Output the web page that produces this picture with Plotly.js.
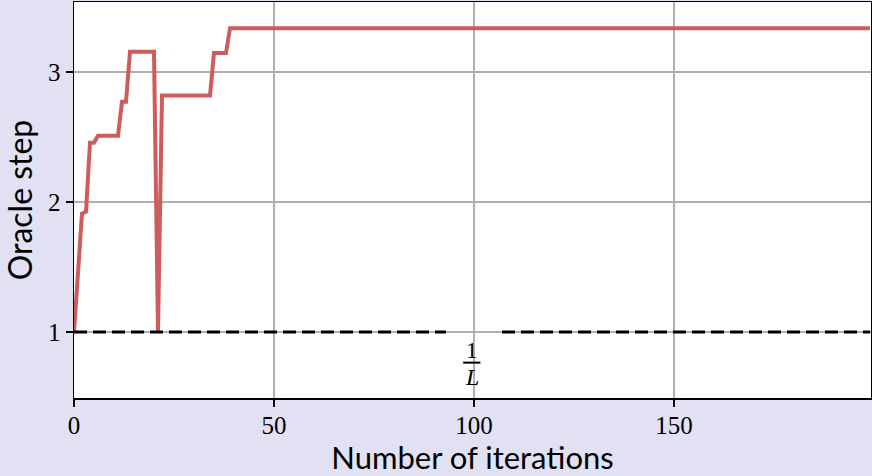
<!DOCTYPE html>
<html>
<head>
<meta charset="utf-8">
<script src="https://cdn.plot.ly/plotly-3.0.1.min.js"></script>
<style>html,body{margin:0;padding:0;background:#e1e1f3;}</style>
</head>
<body>
<div id="chart" style="width:872px;height:476px;"></div>
<script>
// Oracle step per iteration (breakpoints of the curve)
const iterations = [0, 2, 3, 4, 5, 6, 11, 12, 13, 14, 20, 21, 22, 34, 35, 38, 39, 199];
const oracleStep = [1.0, 1.91, 1.925, 2.456, 2.456, 2.51, 2.51, 2.77, 2.77, 3.155, 3.155, 1.0, 2.818, 2.818, 3.145, 3.145, 3.336, 3.336];
// reference 1/L line (drawn in two pieces around its label)
const refLeftX = [0, 93];
const refRightX = [107, 199];
const refY = 1.0;
const xTicks = [0, 50, 100, 150];
const yTicks = [1, 2, 3];

const traces = [
  {x: iterations, y: oracleStep, type: 'scatter', mode: 'lines',
   line: {color: '#cd5c5c', width: 4}, showlegend: false, hoverinfo: 'skip'},
  {x: refLeftX, y: refLeftX.map(() => refY), type: 'scatter', mode: 'lines',
   line: {color: '#000000', width: 3, dash: '13px,6px'}, showlegend: false, hoverinfo: 'skip'},
  {x: refRightX, y: refRightX.map(() => refY), type: 'scatter', mode: 'lines',
   line: {color: '#000000', width: 3, dash: '13px,6px'}, showlegend: false, hoverinfo: 'skip'}
];

const serif = 'Liberation Serif, Times New Roman, serif';
const sans = 'Lato, DejaVu Sans, sans-serif';

const layout = {
  width: 872, height: 476,
  margin: {l: 74, r: 1, t: 2, b: 78},
  paper_bgcolor: '#e1e1f3',
  plot_bgcolor: '#ffffff',
  xaxis: {
    range: [0, 199.25], tickvals: xTicks, ticktext: xTicks.map(String),
    showgrid: true, gridcolor: '#b0b0b0', gridwidth: 1.5,
    zeroline: false, showline: true, linecolor: '#000', linewidth: 1.5, mirror: true,
    ticks: 'outside', ticklen: 7, tickwidth: 1.5, tickcolor: '#000',
    ticklabelstandoff: -3,
    tickfont: {family: serif, size: 25, color: '#000'},
    title: {text: 'Number of iterations', font: {family: sans, size: 31, color: '#000'}, standoff: 6}
  },
  yaxis: {
    range: [0.492, 3.538], tickvals: yTicks, ticktext: yTicks.map(String),
    showgrid: true, gridcolor: '#b0b0b0', gridwidth: 1.5,
    zeroline: false, showline: true, linecolor: '#000', linewidth: 1.5, mirror: true,
    ticks: 'outside', ticklen: 7, tickwidth: 1.5, tickcolor: '#000',
    tickfont: {family: serif, size: 25, color: '#000'},
    title: {text: 'Oracle step', font: {family: sans, size: 32, color: '#000'}, standoff: 18}
  },
  annotations: [
    {x: 99.4, y: 0.858, xref: 'x', yref: 'y', text: '1', showarrow: false,
     font: {family: serif, size: 23, color: '#000'}},
    {x: 99.4, y: 0.655, xref: 'x', yref: 'y', text: '<i>L</i>', showarrow: false,
     font: {family: serif, size: 24, color: '#000'}}
  ],
  shapes: [
    {type: 'line', xref: 'x', yref: 'y', x0: 97.3, x1: 101.6, y0: 0.764, y1: 0.764,
     line: {color: '#000', width: 2}}
  ]
};

Plotly.newPlot('chart', traces, layout, {displayModeBar: false, staticPlot: true});
</script>
</body>
</html>
